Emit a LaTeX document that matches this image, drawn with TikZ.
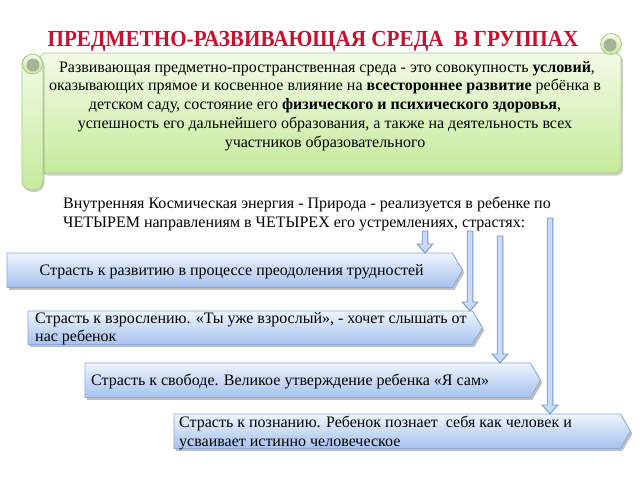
\documentclass[tikz,border=0pt]{standalone}
\usepackage{fontspec}
\setmainfont{Liberation Serif}
\newfontfamily\titlefont[FakeStretch=0.92]{Liberation Serif}
\usetikzlibrary{shadows,calc}
\definecolor{titlered}{HTML}{C8102E}
\definecolor{scrolltop}{HTML}{F3FBE6}
\definecolor{scrollbot}{HTML}{C6EA9C}
\definecolor{scrollline}{HTML}{A9C98A}
\definecolor{curlgray}{HTML}{A7B398}
\definecolor{boxtop}{HTML}{EEF4FD}
\definecolor{boxbot}{HTML}{A6C2EE}
\definecolor{boxline}{HTML}{8AA9DA}
\definecolor{arrline}{HTML}{6F96D6}
\definecolor{arrfill}{HTML}{C8DAF6}
\newcommand\hollowarrow[2]{%
  \draw[arrowshape] let \p1=(#1), \p3=(#1 |- #2.north) in
  (\x1-2.8pt,\y1) -- (\x1+2.8pt,\y1) -- (\x1+2.8pt,\y3+9pt) -- (\x1+7.8pt,\y3+9pt)
  -- (\x1,\y3) -- (\x1-7.8pt,\y3+9pt) -- (\x1-2.8pt,\y3+9pt) -- cycle;}
\newcommand\passionshape[1]{%
  \path[boxshape] (#1.north west) -- (#1.north east) -- ($(#1.east)+(10,0)$)
  -- (#1.south east) -- (#1.south west) -- cycle;}
\begin{document}
\begin{tikzpicture}[x=1pt,y=-1pt,
  txt/.style={font=\rmfamily\fontsize{16}{18.7}\selectfont, inner sep=0pt},
  boxframe/.style={inner sep=0pt, anchor=north west},
  boxshape/.style={draw=boxline, line width=0.8pt, top color=boxtop, bottom color=boxbot,
    drop shadow={shadow xshift=2pt, shadow yshift=-2.5pt, opacity=0.35, fill=black!70}},
  arrowshape/.style={draw=arrline, line width=0.9pt, fill=arrfill, line join=miter},
  scrollpart/.style={draw=scrollline, line width=0.8pt, top color=scrolltop, bottom color=scrollbot}]
\useasboundingbox (0,0) rectangle (640,480);
\fill[white] (0,0) rectangle (640,480);

% title
\node[font=\titlefont\fontsize{23}{27}\selectfont\bfseries, text=titlered, inner sep=0pt, anchor=base] (title) at (313,46) {ПРЕДМЕТНО-РАЗВИВАЮЩАЯ СРЕДА\ \ В ГРУППАХ};

% scroll
\path[scrollpart, rounded corners=6pt, drop shadow={shadow xshift=2pt, shadow yshift=-2.5pt, opacity=0.3, fill=black!60}]
  (40,53) rectangle (621,173);
\path[scrollpart] (611,44) circle (10.5);
\fill[curlgray] (610,45) circle (6.5);
\path[scrollpart, rounded corners=9pt, drop shadow={shadow xshift=1.5pt, shadow yshift=-2pt, opacity=0.3, fill=black!60}]
  (22,55) rectangle (43,190);
\path[scrollpart] (32.5,64) circle (10);
\fill[curlgray] (33,65) circle (6.5);

\node[txt, align=center, anchor=north] (intro) at (325,61) {%
\ Развивающая предметно-пространственная среда - это совокупность \textbf{условий},\\
оказывающих прямое и косвенное влияние на \textbf{всестороннее развитие} ребёнка в\\
детском саду, состояние его \textbf{физического и психического здоровья},\\
успешность его дальнейшего образования, а также на деятельность всех\\
участников образовательного};

\node[txt, align=left, anchor=north west] (energy) at (63,197) {%
Внутренняя Космическая энергия - Природа - реализуется в ребенке по\\
ЧЕТЫРЕМ направлениям в ЧЕТЫРЕХ его устремлениях, страстях:};

% boxes
\node[boxframe, minimum width=445pt, minimum height=34pt] (b1) at (7,253) {};
\passionshape{b1}
\node[txt, anchor=center] (t1) at ($(b1.center)+(2,1.5)$) {Страсть к развитию в процессе преодоления трудностей};

\node[boxframe, minimum width=444pt, minimum height=33pt] (b2) at (28,311) {};
\passionshape{b2}
\node[txt, align=left, anchor=north west] (t2) at (35,312) {Страсть к взрослению. «Ты уже взрослый», - хочет слышать от\\нас ребенок};

\node[boxframe, minimum width=445pt, minimum height=34pt] (b3) at (85,363) {};
\passionshape{b3}
\node[txt, anchor=west] (t3) at (91,381.5) {Страсть к свободе. Великое утверждение ребенка «Я сам»};

\node[boxframe, minimum width=446pt, minimum height=34pt] (b4) at (174,414) {};
\passionshape{b4}
\node[txt, align=left, anchor=north west] (t4) at (179,416) {Страсть к познанию. Ребенок познает\ \ себя как человек и\\усваивает истинно человеческое};

% arrows
\coordinate (s1) at (425,231);
\coordinate (s2) at (470,231);
\coordinate (s3) at (500,236);
\coordinate (s4) at (550,218);
\hollowarrow{s1}{b1}
\hollowarrow{s2}{b2}
\hollowarrow{s3}{b3}
\hollowarrow{s4}{b4}
\end{tikzpicture}
\end{document}
